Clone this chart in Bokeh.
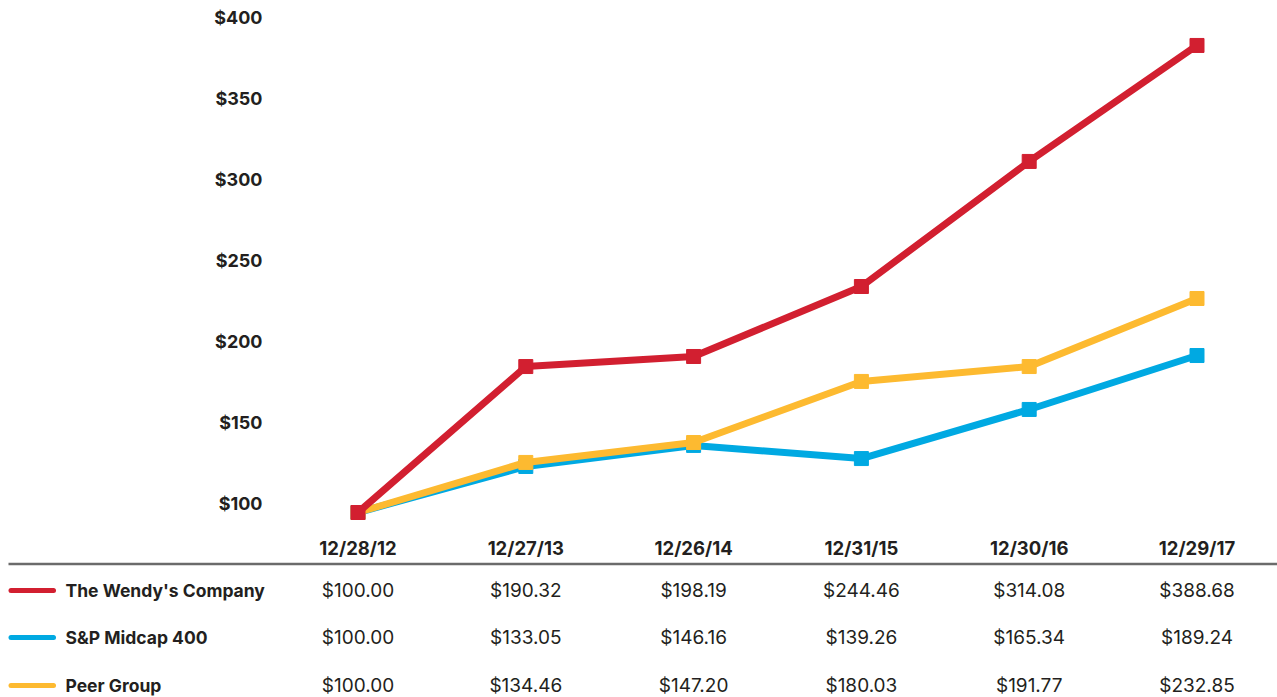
from bokeh.plotting import figure
from bokeh.models import Range1d
from bokeh.embed import file_html
from bokeh.resources import INLINE
from bokeh.core.properties import value

# ---------------- data ----------------
dates = ["12/28/12", "12/27/13", "12/26/14", "12/31/15", "12/30/16", "12/29/17"]
series_names = ["The Wendy's Company", "S&P Midcap 400", "Peer Group"]

# values as drawn by the lines
wendys = [100.0, 190.1, 196.3, 239.5, 316.7, 388.3]
midcap = [100.0, 128.4, 141.4, 133.3, 163.6, 196.9]
peer = [100.0, 130.9, 143.2, 180.9, 190.1, 232.1]

# values printed in the table
wendys_table = ["$100.00", "$190.32", "$198.19", "$244.46", "$314.08", "$388.68"]
midcap_table = ["$100.00", "$133.05", "$146.16", "$139.26", "$165.34", "$189.24"]
peer_table = ["$100.00", "$134.46", "$147.20", "$180.03", "$191.77", "$232.85"]

y_ticks = [100, 150, 200, 250, 300, 350, 400]
y_tick_labels = ["$100", "$150", "$200", "$250", "$300", "$350", "$400"]

# ---------------- style ----------------
RED = "#D21F30"
BLUE = "#00A9E2"
YELLOW = "#FDBA30"
TEXT = "#231F20"
RULE = "#6B6B6B"
FONT = "Inter"

W, H = 1277, 697
COL0_PX = 357.5          # pixel centre of first date column
PPU = 167.8              # pixels between date columns
X_START = -COL0_PX / PPU
X_END = (W - COL0_PX) / PPU

Y100_PX = 512.0          # pixel row of the $100 level
Y_PPU = 1.62             # pixels per dollar
Y_START = 100 - (H - Y100_PX) / Y_PPU
Y_END = 100 + Y100_PX / Y_PPU

idx = list(range(len(dates)))


def px2x(px):
    return X_START + px / PPU


p = figure(width=W, height=H,
           x_range=Range1d(X_START, X_END), y_range=Range1d(Y_START, Y_END),
           output_backend="svg", toolbar_location=None,
           x_axis_location=None, y_axis_location=None,
           min_border_left=0, min_border_right=0,
           min_border_top=0, min_border_bottom=0)
p.outline_line_color = None
p.grid.visible = False
p.background_fill_color = "white"
p.border_fill_color = "white"

# table coordinates: pixel rows from the top of the page
p.extra_y_ranges = {"table": Range1d(H, 0)}

# ---------------- y tick labels ----------------
p.text(x=[px2x(262)] * len(y_ticks), y=y_ticks, text=y_tick_labels,
       text_font=value(FONT), text_font_style="bold", text_font_size="18px",
       text_color=TEXT, text_align="right", text_baseline="middle",
       y_offset=-9.5)

# ---------------- lines ----------------
for vals, col in [(midcap, BLUE), (peer, YELLOW), (wendys, RED)]:
    p.line(idx, vals, line_width=7, line_color=col, line_join="round")
    p.scatter(idx, vals, marker="square", size=14, fill_color=col, line_color=col)

# ---------------- table ----------------
HEADER_Y = 547
RULE_Y = 563.5
ROW_Y = [590, 637, 685]

p.text(x=idx, y=[HEADER_Y] * len(idx), text=dates, y_range_name="table",
       text_font=value(FONT), text_font_style="bold", text_font_size="18.5px",
       text_color=TEXT, text_align="center", text_baseline="middle")

p.segment(x0=[px2x(8)], y0=[RULE_Y], x1=[px2x(W)], y1=[RULE_Y],
          y_range_name="table", line_width=2.5, line_color=RULE)

colors = [RED, BLUE, YELLOW]
tables = [wendys_table, midcap_table, peer_table]
for name, col, vals, yy in zip(series_names, colors, tables, ROW_Y):
    p.segment(x0=[px2x(10.5)], y0=[yy], x1=[px2x(53)], y1=[yy],
              y_range_name="table", line_width=5, line_color=col, line_cap="round")
    p.text(x=[px2x(65)], y=[yy], text=[name], y_range_name="table",
           text_font=value(FONT), text_font_style="bold", text_font_size="17.5px",
           text_color=TEXT, text_align="left", text_baseline="middle")
    p.text(x=idx, y=[yy] * len(idx), text=vals, y_range_name="table",
           text_font=value(FONT), text_font_size="19px",
           text_color=TEXT, text_align="center", text_baseline="middle")

open("out.html", "w").write(file_html(p, INLINE))
